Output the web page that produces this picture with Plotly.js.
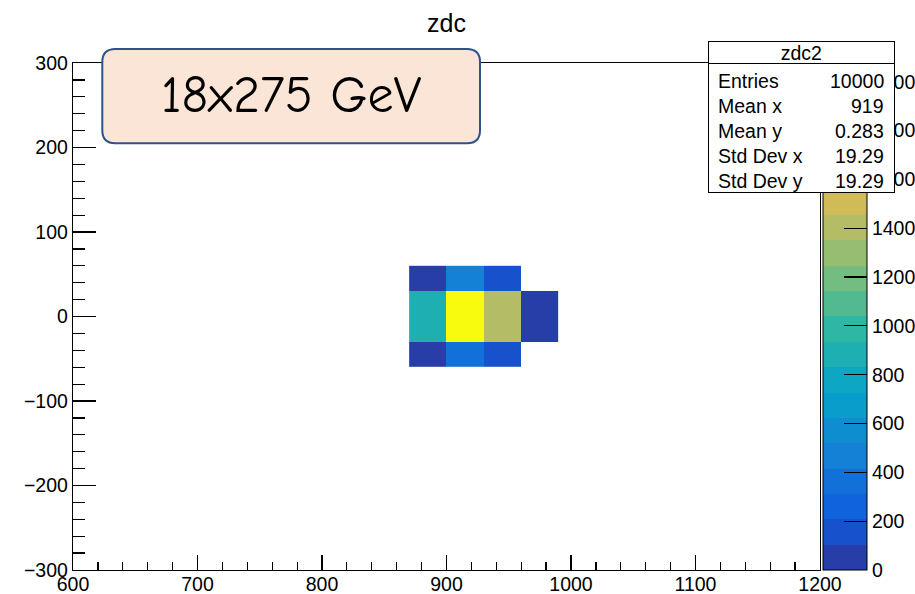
<!DOCTYPE html>
<html>
<head>
<meta charset="utf-8">
<script src="https://cdn.plot.ly/plotly-3.0.1.min.js"></script>
<style>
  html, body { margin: 0; padding: 0; background: #fff; }
  #plot { width: 915px; height: 594px; }
</style>
</head>
<body>
<div id="plot"></div>
<script>
// ZDC hit map: 30x30 bins, counts per cell (empty bins left blank)
const xCenters = [885, 915, 945, 975];
const yCenters = [-45, -15, 15, 45];
const rowM45 = [50, 370, 160, null];
const rowM15 = [870, 2052, 1390, 55];
const rowP15 = [890, 2077, 1410, 45];
const rowP45 = [50, 470, 160, null];

// statistics box
const statTitle = 'zdc2';
const statLabels = ['Entries', 'Mean x', 'Mean y', 'Std Dev x', 'Std Dev y'];
const statValues = ['10000', '919', '0.283', '19.29', '19.29'];

const plotTitle = 'zdc';
const beamLabel = '18x275 GeV';

// ---- ROOT "bird" palette, 20 contour levels ----
const birdStops = [0.0, 0.125, 0.25, 0.375, 0.5, 0.625, 0.75, 0.875, 1.0];
const birdR = [0.2082, 0.0592, 0.0780, 0.0232, 0.1802, 0.5301, 0.8186, 0.9956, 0.9764];
const birdG = [0.1664, 0.3599, 0.5041, 0.6419, 0.7178, 0.7492, 0.7328, 0.7862, 0.9832];
const birdB = [0.5293, 0.8684, 0.8385, 0.7914, 0.6425, 0.4662, 0.3499, 0.1968, 0.0539];

function bird(f) {
  let k = 0;
  while (k < birdStops.length - 2 && f > birdStops[k + 1]) k++;
  const t = (f - birdStops[k]) / (birdStops[k + 1] - birdStops[k]);
  const c = arr => Math.round(255 * (arr[k] + (arr[k + 1] - arr[k]) * t));
  return 'rgb(' + c(birdR) + ',' + c(birdG) + ',' + c(birdB) + ')';
}

const nLevels = 20, nColors = 255;
const colorscale = [];
for (let i = 0; i < nLevels; i++) {
  const idx = Math.floor((i + 0.99) * nColors / nLevels);
  const col = bird(Math.min(idx, nColors - 1) / (nColors - 1));
  colorscale.push([i / nLevels, col]);
  colorscale.push([(i + 1) / nLevels, col]);
}

const zRows = [rowM45, rowM15, rowP15, rowP45];
const zMax = Math.max(...zRows.flat().filter(v => v !== null));

// ---- page geometry helpers (pixel -> paper fraction) ----
const W = 915, H = 594;
const M = { l: 73, r: 95, t: 63, b: 24, autoexpand: false };
const pw = W - M.l - M.r, ph = H - M.t - M.b;
const PX = x => (x - M.l) / pw;
const PY = y => (H - M.b - y) / ph;

function roundedRect(x0, y0, x1, y1, r) {
  const p = (x, y) => PX(x).toFixed(5) + ',' + PY(y).toFixed(5);
  return 'M' + p(x0 + r, y0) + ' L' + p(x1 - r, y0) + ' Q' + p(x1, y0) + ' ' + p(x1, y0 + r) +
         ' L' + p(x1, y1 - r) + ' Q' + p(x1, y1) + ' ' + p(x1 - r, y1) +
         ' L' + p(x0 + r, y1) + ' Q' + p(x0, y1) + ' ' + p(x0, y1 - r) +
         ' L' + p(x0, y0 + r) + ' Q' + p(x0, y0) + ' ' + p(x0 + r, y0) + ' Z';
}

const FONT = 'Liberation Sans, Arial, Helvetica, sans-serif';
const FS = 19.5;

const trace = {
  type: 'heatmap',
  x: xCenters,
  y: yCenters,
  z: zRows,
  zmin: 0,
  zmax: zMax,
  colorscale: colorscale,
  hoverongaps: false,
  colorbar: {
    x: PX(823.3), xanchor: 'left', xpad: 0,
    y: 0.5, yanchor: 'middle', len: 1, ypad: 0,
    thickness: 44,
    outlinewidth: 1, outlinecolor: '#000',
    ticks: 'inside', ticklen: 23, tickwidth: 1.2, tickcolor: '#000',
    tick0: 0, dtick: 200,
    tickfont: { family: FONT, size: FS, color: '#000' }
  }
};

// stats box: background, title cell, rows
const sbX0 = 708.3, sbX1 = 895, sbY0 = 41, sbY1 = 192.7, sbTitleY = 64.3;
const annotations = [
  {
    xref: 'paper', yref: 'paper', x: PX(291), y: PY(95),
    xanchor: 'center', yanchor: 'middle', showarrow: false,
    text: beamLabel,
    font: { family: 'Comic Sans MS, Comic Neue, DejaVu Sans, sans-serif', size: 52, color: '#000' }
  },
  {
    xref: 'paper', yref: 'paper', x: PX((sbX0 + sbX1) / 2), y: PY((sbY0 + sbY1) / 2),
    xanchor: 'center', yanchor: 'middle', showarrow: false, text: ' ',
    width: sbX1 - sbX0 - 2, height: sbY1 - sbY0 - 2,
    bgcolor: '#fff', bordercolor: '#000', borderwidth: 1, borderpad: 0
  },
  {
    xref: 'paper', yref: 'paper', x: PX((sbX0 + sbX1) / 2), y: PY((sbY0 + sbTitleY) / 2),
    xanchor: 'center', yanchor: 'middle', showarrow: false, text: statTitle,
    width: sbX1 - sbX0 - 2, height: sbTitleY - sbY0 - 2,
    bordercolor: '#000', borderwidth: 1, borderpad: 0,
    font: { family: FONT, size: FS, color: '#000' }
  }
];
statLabels.forEach((lab, i) => {
  const yc = 80.8 + i * 25;
  annotations.push({
    xref: 'paper', yref: 'paper', x: PX(716), y: PY(yc),
    xanchor: 'left', yanchor: 'middle', showarrow: false, text: lab,
    font: { family: FONT, size: FS, color: '#000' }
  });
  annotations.push({
    xref: 'paper', yref: 'paper', x: PX(886), y: PY(yc),
    xanchor: 'right', yanchor: 'middle', showarrow: false, text: statValues[i],
    font: { family: FONT, size: FS, color: '#000' }
  });
});

const layout = {
  width: W, height: H,
  margin: M,
  paper_bgcolor: '#fff',
  plot_bgcolor: '#fff',
  font: { family: FONT, size: FS, color: '#000' },
  title: {
    text: plotTitle,
    x: 0.5, xref: 'paper', xanchor: 'center',
    y: 1 - 23 / H, yref: 'container', yanchor: 'middle',
    font: { family: FONT, size: 25, color: '#000' }
  },
  xaxis: {
    range: [600, 1200], tick0: 600, dtick: 100,
    ticks: 'inside', ticklen: 15, tickwidth: 1.2, tickcolor: '#000',
    minor: { ticks: 'inside', ticklen: 8, dtick: 20, tickwidth: 1.2, tickcolor: '#000', showgrid: false },
    showline: true, linecolor: '#000', linewidth: 1.2, mirror: true,
    showgrid: false, zeroline: false, automargin: false,
    ticklabelstandoff: -4,
    tickfont: { family: FONT, size: FS, color: '#000' }
  },
  yaxis: {
    range: [-300, 300], tick0: -300, dtick: 100,
    ticks: 'inside', ticklen: 23, tickwidth: 1.2, tickcolor: '#000',
    minor: { ticks: 'inside', ticklen: 12, dtick: 20, tickwidth: 1.2, tickcolor: '#000', showgrid: false },
    showline: true, linecolor: '#000', linewidth: 1.2, mirror: true,
    showgrid: false, zeroline: false, automargin: false,
    tickfont: { family: FONT, size: FS, color: '#000' }
  },
  shapes: [
    {
      type: 'path', xref: 'paper', yref: 'paper', layer: 'above',
      path: roundedRect(102.3, 49, 480, 143.3, 13),
      fillcolor: '#fbe5d6',
      line: { color: '#2f528f', width: 2 }
    }
  ],
  annotations: annotations,
  showlegend: false
};

Plotly.newPlot('plot', [trace], layout, { staticPlot: true, displayModeBar: false });
</script>
</body>
</html>
